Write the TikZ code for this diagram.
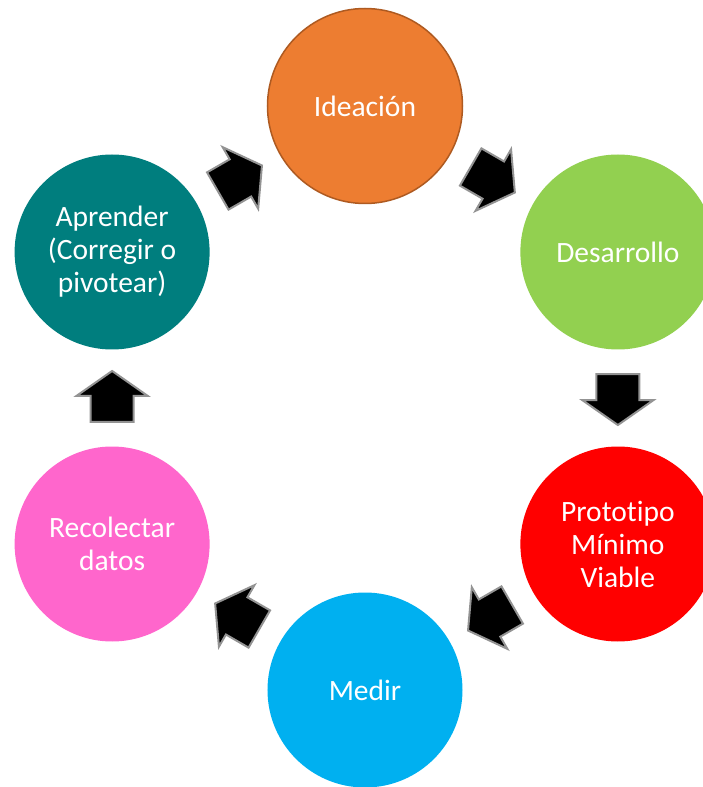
\documentclass[tikz,border=0pt]{standalone}
\usepackage{fontspec}
\setmainfont[Ligatures=NoCommon]{Carlito}
\usetikzlibrary{calc}
\usetikzlibrary{shapes.arrows}

\definecolor{ideaorange}{HTML}{ED7D31}
\definecolor{ideaedge}{HTML}{AE5A21}
\definecolor{devgreen}{HTML}{92D050}
\definecolor{protored}{HTML}{FF0000}
\definecolor{measblue}{HTML}{00B0F0}
\definecolor{datapink}{HTML}{FF66CC}
\definecolor{learnteal}{HTML}{007E7E}

\begin{document}
\begin{tikzpicture}[x=1pt, y=1pt,
    phase/.style={circle, minimum size=195pt, inner sep=0pt, text=white,
        align=center, font=\fontsize{29.5}{33}\selectfont},
    steparrow/.style={single arrow, fill=black, draw=gray!85, line width=2pt,
        minimum height=51pt, text height=41pt, text depth=0pt, text width=0pt,
        inner sep=0pt, single arrow head extend=14pt, single arrow tip angle=110}]
            \useasboundingbox (-365,-389) rectangle (338,398);
            \clip (-365,-389) rectangle (338,398);

            % Phase circles around the loop
            \node[phase, fill=ideaorange, draw=ideaedge, line width=1.5pt] (ide) at (90:292) {Ideación};
            \node[phase, fill=devgreen] (des) at (30:292) {Desarrollo};
            \node[phase, fill=protored] (pro) at (-30:292) {Prototipo\\Mínimo\\Viable};
            \node[phase, fill=measblue] (med) at (-90:292) {Medir};
            \node[phase, fill=datapink] (rec) at (-150:292) {Recolectar\\datos};
            \node[phase, fill=learnteal] (apr) at (150:292) {Aprender\\(Corregir o\\pivotear)};

            % Block arrows between neighbours, clockwise (pulled back a bit so the shape sits midway)
            \node[steparrow, rotate=-30] (a1) at ($(ide)!0.5!(des)!6pt!(ide)$) {};
            \node[steparrow, rotate=-90] (a2) at ($(des)!0.5!(pro)!6pt!(des)$) {};
            \node[steparrow, rotate=-150] (a3) at ($(pro)!0.5!(med)!6pt!(pro)$) {};
            \node[steparrow, rotate=150] (a4) at ($(med)!0.5!(rec)!6pt!(med)$) {};
            \node[steparrow, rotate=90] (a5) at ($(rec)!0.5!(apr)!6pt!(rec)$) {};
            \node[steparrow, rotate=30] (a6) at ($(apr)!0.5!(ide)!6pt!(apr)$) {};
        \end{tikzpicture}
\end{document}
